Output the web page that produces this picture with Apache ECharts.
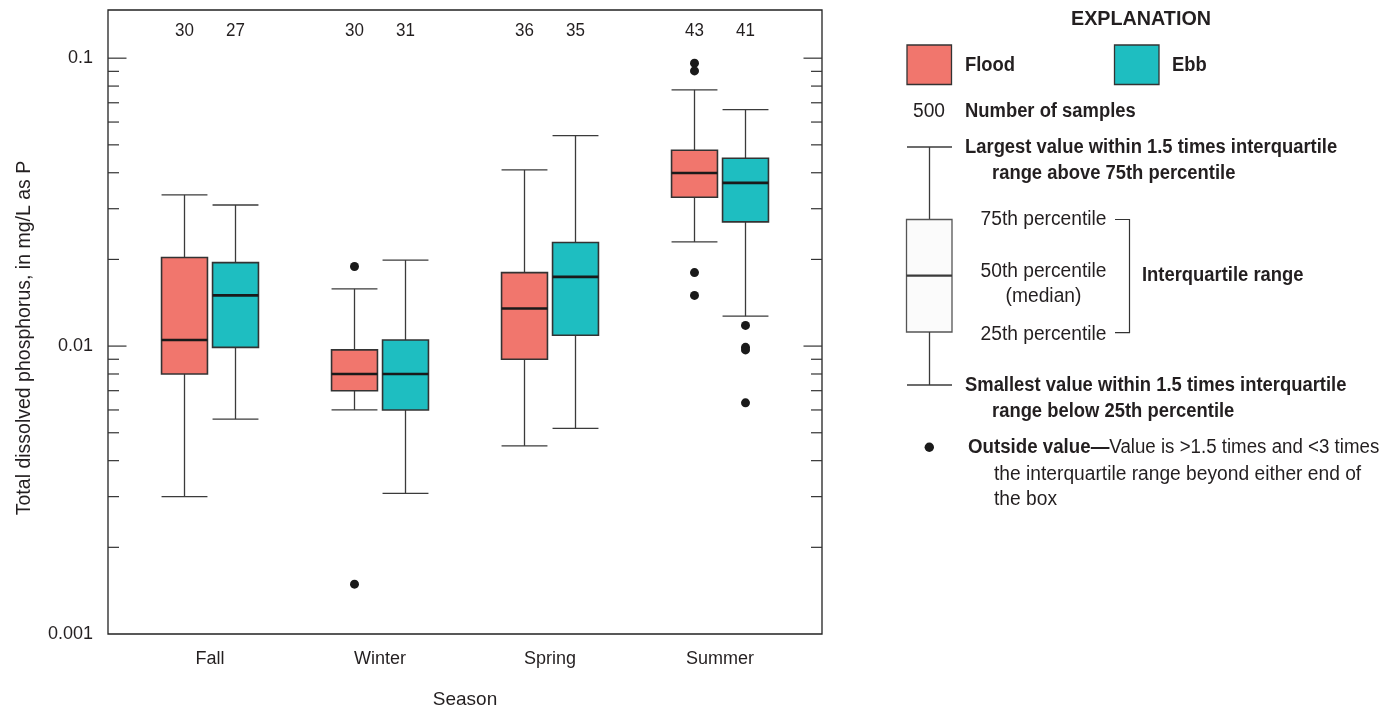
<!DOCTYPE html>
<html>
<head>
<meta charset="utf-8">
<script src="https://cdn.jsdelivr.net/npm/echarts@6/dist/echarts.min.js"></script>
<style>
  html, body { margin: 0; padding: 0; background: #ffffff; }
  #chart { width: 1382px; height: 710px; }
</style>
</head>
<body>
<div id="chart"></div>
<script>
// ---- data -------------------------------------------------------------
const SEASONS = ['Fall', 'Winter', 'Spring', 'Summer'];

// [lower whisker, 25th pct, median, 75th pct, upper whisker], mg/L as P
const FLOOD_STATS = [
  [0.0030, 0.0080, 0.0105, 0.0203, 0.0335],
  [0.0060, 0.0070, 0.0080, 0.0097, 0.0158],
  [0.0045, 0.0090, 0.0135, 0.0180, 0.0409],
  [0.0230, 0.0329, 0.0399, 0.0479, 0.0776]
];
const EBB_STATS = [
  [0.00558, 0.0099, 0.0150, 0.0195, 0.0309],
  [0.00308, 0.0060, 0.0080, 0.0105, 0.0199],
  [0.00518, 0.0109, 0.0174, 0.0229, 0.0538],
  [0.0127, 0.0270, 0.0369, 0.0449, 0.0663]
];

// outside values per season
const FLOOD_OUTSIDE = [[], [0.0189, 0.00149], [], [0.0961, 0.0903, 0.0180, 0.0150]];
const EBB_OUTSIDE = [[], [], [], [0.0118, 0.0099, 0.0097, 0.00635]];

// number of samples
const FLOOD_COUNTS = [30, 30, 36, 43];
const EBB_COUNTS = [27, 31, 35, 41];

// y axis
const Y_MIN = 0.001;
const Y_MAX = 0.147;
const Y_LABELS = [0.001, 0.01, 0.1];
const MAJOR_TICKS = [0.01, 0.1];
const MINOR_TICKS = [
  0.002, 0.003, 0.004, 0.005, 0.006, 0.007, 0.008, 0.009,
  0.02, 0.03, 0.04, 0.05, 0.06, 0.07, 0.08, 0.09
];

// ---- styling ----------------------------------------------------------
const FONT = '"Liberation Sans", Arial, sans-serif';
const INK = '#231f20';
const FLOOD_COLOR = '#f1766d';
const EBB_COLOR = '#1ebec1';
const X_MIN = 0.4, X_MAX = 4.6;
const BOX_W = 0.27;
const PAIR_OFFSET = 0.15;

function boxRenderer(offset, fillColor) {
  return function (params, api) {
    const x = api.value(0) + offset;
    const lo = api.value(1), q1 = api.value(2), med = api.value(3),
          q3 = api.value(4), hi = api.value(5), n = api.value(6);
    const xl = api.coord([x - BOX_W / 2, med])[0];
    const xr = api.coord([x + BOX_W / 2, med])[0];
    const xc = api.coord([x, med])[0];
    const y = v => api.coord([x, v])[1];
    const topY = api.coord([x, Y_MAX])[1];
    const whisk = { stroke: '#3b3b3b', lineWidth: 1.3 };
    return {
      type: 'group',
      children: [
        { type: 'line', shape: { x1: xc, y1: y(hi), x2: xc, y2: y(q3) }, style: whisk },
        { type: 'line', shape: { x1: xc, y1: y(q1), x2: xc, y2: y(lo) }, style: whisk },
        { type: 'line', shape: { x1: xl, y1: y(hi), x2: xr, y2: y(hi) }, style: whisk },
        { type: 'line', shape: { x1: xl, y1: y(lo), x2: xr, y2: y(lo) }, style: whisk },
        { type: 'rect', shape: { x: xl, y: y(q3), width: xr - xl, height: y(q1) - y(q3) },
          style: { fill: fillColor, stroke: '#333333', lineWidth: 1.6 } },
        { type: 'line', shape: { x1: xl, y1: y(med), x2: xr, y2: y(med) },
          style: { stroke: '#1a1a1a', lineWidth: 2.6 } },
        { type: 'text', x: xc, y: topY + 20.5, scaleY: 1.1,
          style: { text: String(n), font: '17px ' + FONT, fill: INK,
                   align: 'center', verticalAlign: 'middle',
                   textAlign: 'center', textVerticalAlign: 'middle' } }
      ]
    };
  };
}

function boxData(stats, counts) {
  return stats.map((s, i) => [i + 1].concat(s, [counts[i]]));
}

function outsideData(lists, offset) {
  const out = [];
  lists.forEach((vals, i) => vals.forEach(v => out.push([i + 1 + offset, v])));
  return out;
}

// inward ticks on both vertical sides of the frame
function tickRenderer(params, api) {
  const v = api.value(1);
  const major = api.value(2) === 1;
  const len = major ? 18.5 : 11;
  const pl = api.coord([X_MIN, v]);
  const pr = api.coord([X_MAX, v]);
  const st = { stroke: '#333333', lineWidth: 1.2 };
  return {
    type: 'group',
    children: [
      { type: 'line', shape: { x1: pl[0], y1: pl[1], x2: pl[0] + len, y2: pl[1] }, style: st },
      { type: 'line', shape: { x1: pr[0] - len, y1: pr[1], x2: pr[0], y2: pr[1] }, style: st }
    ]
  };
}

const tickData = MAJOR_TICKS.map(v => [X_MIN, v, 1]).concat(MINOR_TICKS.map(v => [X_MIN, v, 0]));

// ---- explanation panel ------------------------------------------------
function txt(x, y, text, opts) {
  opts = opts || {};
  const align = opts.align || 'left';
  return {
    type: 'text', x: x, y: y, scaleX: opts.scaleX || (opts.bold ? 0.92 : 0.96),
    style: {
      text: text,
      font: (opts.bold ? 'bold ' : '') + (opts.size || 20) + 'px ' + FONT,
      fill: INK,
      align: align, verticalAlign: 'middle',
      textAlign: align, textVerticalAlign: 'middle',
      rich: opts.rich
    }
  };
}
function seg(x1, y1, x2, y2, w) {
  return { type: 'line', shape: { x1: x1, y1: y1, x2: x2, y2: y2 },
           style: { stroke: '#3b3b3b', lineWidth: w || 1.3 } };
}

const legendGraphics = [
  txt(1141, 19, 'EXPLANATION', { bold: true, size: 21, align: 'center', scaleX: 0.94 }),
  { type: 'rect', shape: { x: 907, y: 45, width: 44.5, height: 39.5 },
    style: { fill: FLOOD_COLOR, stroke: '#333333', lineWidth: 1.3 } },
  txt(965, 65, 'Flood', { bold: true }),
  { type: 'rect', shape: { x: 1114.5, y: 45, width: 44.5, height: 39.5 },
    style: { fill: EBB_COLOR, stroke: '#333333', lineWidth: 1.3 } },
  txt(1172, 65, 'Ebb', { bold: true }),
  txt(929, 111, '500', { align: 'center' }),
  txt(965, 111, 'Number of samples', { bold: true }),

  seg(907, 147, 952, 147),
  seg(929.5, 147, 929.5, 219.5),
  { type: 'rect', shape: { x: 906.5, y: 219.5, width: 45.5, height: 112.5 },
    style: { fill: '#fbfbfb', stroke: '#555555', lineWidth: 1.3 } },
  seg(906.5, 275.7, 952, 275.7, 2.3),
  seg(929.5, 332, 929.5, 385),
  seg(907, 385, 952, 385),

  txt(965, 147, 'Largest value within 1.5 times interquartile', { bold: true }),
  txt(992, 173, 'range above 75th percentile', { bold: true }),
  txt(1043.5, 219.5, '75th percentile', { align: 'center' }),
  txt(1043.5, 271, '50th percentile', { align: 'center' }),
  txt(1043.5, 296, '(median)', { align: 'center' }),
  txt(1043.5, 334, '25th percentile', { align: 'center' }),
  { type: 'polyline',
    shape: { points: [[1115, 219.5], [1129.5, 219.5], [1129.5, 332.7], [1115, 332.7]] },
    style: { stroke: '#333333', lineWidth: 1.2, fill: null } },
  txt(1142, 275.7, 'Interquartile range', { bold: true }),
  txt(965, 385, 'Smallest value within 1.5 times interquartile', { bold: true }),
  txt(992, 411, 'range below 25th percentile', { bold: true }),

  { type: 'circle', shape: { cx: 929.3, cy: 447.3, r: 4.7 }, style: { fill: '#1a1a1a' } },
  txt(968, 447, '{b|Outside value—}Value is >1.5 times and <3 times', {
    scaleX: 0.935,
    rich: { b: { font: 'bold 20px ' + FONT, fill: INK } }
  }),
  txt(994, 474, 'the interquartile range beyond either end of'),
  txt(994, 499, 'the box')
];

// ---- chart ------------------------------------------------------------
const chart = echarts.init(document.getElementById('chart'), null, { renderer: 'canvas' });

chart.setOption({
  backgroundColor: '#ffffff',
  animation: false,
  grid: {
    left: 108, right: 560, top: 10, bottom: 76,
    outerBoundsMode: 'none',
    containLabel: false,
    show: true, borderColor: '#222222', borderWidth: 1.3, backgroundColor: 'transparent'
  },
  xAxis: {
    type: 'value',
    min: X_MIN, max: X_MAX,
    name: 'Season',
    nameLocation: 'middle',
    nameGap: 56,
    nameTextStyle: { fontFamily: FONT, fontSize: 19, color: INK },
    axisLine: { show: false },
    axisTick: { show: false },
    splitLine: { show: false },
    axisLabel: {
      customValues: [1, 2, 3, 4],
      formatter: v => SEASONS[Math.round(v) - 1] || '',
      margin: 16,
      fontFamily: FONT, fontSize: 18, color: INK
    }
  },
  yAxis: {
    type: 'log',
    logBase: 10,
    min: Y_MIN, max: Y_MAX,
    name: 'Total dissolved phosphorus, in mg/L as P',
    nameLocation: 'middle',
    nameGap: 73,
    nameTextStyle: { fontFamily: FONT, fontSize: 19.5, color: INK, padding: [0, 32, 0, 0] },
    axisLine: { show: false },
    axisTick: { show: false },
    splitLine: { show: false },
    minorTick: { show: false },
    axisLabel: {
      margin: 15,
      fontFamily: FONT, fontSize: 18, color: INK,
      showMaxLabel: false,
      formatter: function (v) {
        for (const t of Y_LABELS) {
          if (Math.abs(v - t) / t < 1e-6) return String(t);
        }
        return '';
      }
    }
  },
  series: [
    {
      name: 'ticks', type: 'custom', renderItem: tickRenderer,
      data: tickData, encode: { x: 0, y: 1 }, silent: true, clip: false, z: 1
    },
    {
      name: 'Flood', type: 'custom', renderItem: boxRenderer(-PAIR_OFFSET, FLOOD_COLOR),
      data: boxData(FLOOD_STATS, FLOOD_COUNTS), encode: { x: 0, y: [1, 2, 3, 4, 5] }, z: 2
    },
    {
      name: 'Ebb', type: 'custom', renderItem: boxRenderer(PAIR_OFFSET, EBB_COLOR),
      data: boxData(EBB_STATS, EBB_COUNTS), encode: { x: 0, y: [1, 2, 3, 4, 5] }, z: 2
    },
    {
      name: 'Flood outside', type: 'scatter', symbol: 'circle', symbolSize: 9,
      data: outsideData(FLOOD_OUTSIDE, -PAIR_OFFSET),
      itemStyle: { color: '#1a1a1a', opacity: 1 }, z: 3
    },
    {
      name: 'Ebb outside', type: 'scatter', symbol: 'circle', symbolSize: 9,
      data: outsideData(EBB_OUTSIDE, PAIR_OFFSET),
      itemStyle: { color: '#1a1a1a', opacity: 1 }, z: 3
    }
  ],
  graphic: { elements: legendGraphics }
});
</script>
</body>
</html>
